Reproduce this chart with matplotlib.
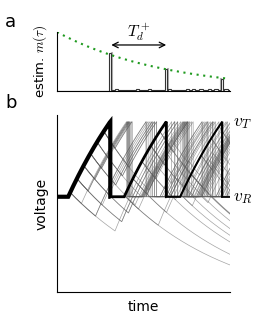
import numpy as np
import matplotlib
matplotlib.use("Agg")
import matplotlib.pyplot as plt
from matplotlib.transforms import blended_transform_factory

plt.rcParams['mathtext.fontset'] = 'cm'
plt.rcParams['font.family'] = ['DejaVu Sans']

# ---------------- data ----------------
# panel a : estimated m(tau)
peak_times = [0.95, 1.95, 2.95]
peak_heights = [0.64, 0.37, 0.20]
gray_side = [1, 1, -1]
bump_starts = [1.03, 1.41, 1.62, 1.98, 2.30, 2.41, 2.53, 2.69, 2.80, 2.99]
bump_ends = [1.09, 1.46, 1.68, 2.04, 2.36, 2.46, 2.60, 2.75, 2.87, 3.05]
bump_heights = [0.035, 0.035, 0.03, 0.035, 0.03, 0.035, 0.035, 0.03, 0.035, 0.04]
base_after = 0.012
env_m0, env_tau = 1.0, 1.95
arrow_t = [0.97, 1.95]

# panel b : trajectories (neuron with switching input)
t_start = 0.2
refractory = 0.25
v_reset, v_thresh = 0.0, 1.0
mu_on, tau_on = 3.0, 1.85
mu_off, tau_off = -1.5, 2.0
t_end = 3.09
# input switch times (off, on, off, ...) for the thin trajectories
cycle1_off = [0.24, 0.36, 0.48, 0.60, 0.72, 0.84]
cycle1_dur = [0.2, 0.45, 0.8]
cycle2_off = [1.21, 1.36, 1.52, 1.68, 1.84]
cycle2_dur = [0.25, 0.6, 5.0]
cycle3_off = [2.22, 2.40, 2.58, 2.76, 2.90]
cycle3_dur = [0.2, 5.0]
combo_off1 = [0.36, 0.48, 0.60, 0.24, 0.84, 0.48, 0.72, 0.36, 0.60, 0.84]
combo_dur1 = [0.2, 0.2, 0.45, 0.45, 0.2, 0.8, 0.45, 0.8, 0.2, 0.45]
combo_off2 = [2.05, 1.80, 2.25, 2.60, 2.45, 2.80, 2.15, 2.70, 1.95, 2.35]
combo_dur2 = [0.3, 0.25, 5.0, 0.2, 0.25, 5.0, 0.3, 5.0, 5.0, 0.2]


def simulate(switches, dt=0.004):
    ts, vs = [0.0, t_start], [v_reset, v_reset]
    t, v, on, k = t_start, v_reset, True, 0
    refr_until = -1.0
    sw = sorted(switches)
    while t < t_end:
        tn = t + dt
        while k < len(sw) and sw[k] <= tn:
            on = not on
            k += 1
        if tn <= refr_until:
            v = v_reset
        else:
            mu, tau = (mu_on, tau_on) if on else (mu_off, tau_off)
            v = mu + (v - mu) * np.exp(-dt / tau)
        t = tn
        if v >= v_thresh:
            ts += [t, t]
            vs += [v_thresh, v_reset]
            v = v_reset
            refr_until = t + refractory
        else:
            ts.append(t)
            vs.append(v)
    return np.array(ts), np.array(vs)


fig = plt.figure(figsize=(2.56, 3.25), dpi=100)

# ---------------- panel a ----------------
axa = fig.add_axes([57 / 256, 1 - 91 / 325, 173 / 256, 59 / 325])
bw = 0.03
segs = list(zip(bump_starts, bump_ends, bump_heights))
for pt, ph in zip(peak_times, peak_heights):
    segs.append((pt - bw / 2, pt + bw / 2, ph))
segs.sort()
xs, ys = [0.0], [0.0]
for (s, e, h) in segs:
    base = base_after if s > peak_times[0] else 0.0
    xs += [s, s, e, e]
    ys += [base, h, h, base_after]
xs.append(t_end - 0.02)
ys.append(base_after)
for pt, ph, sd in zip(peak_times, peak_heights, gray_side):
    axa.plot([pt + sd * (bw / 2 + 0.012)] * 2, [0, ph], color='#b0b0b0', lw=1.5)
axa.plot(xs, ys, color='#333333', lw=0.8, solid_joinstyle='miter')
tt = np.linspace(0, t_end - 0.02, 200)
axa.plot(tt, env_m0 * np.exp(-tt / env_tau), color='#1f9a1f', lw=1.5,
         linestyle=(0, (1, 2.2)))
axa.annotate('', xy=(arrow_t[0], 0.78), xytext=(arrow_t[1], 0.78),
             arrowprops=dict(arrowstyle='<->', lw=0.9, color='k',
                             shrinkA=0, shrinkB=0, mutation_scale=10))
axa.text(np.mean(arrow_t), 0.99, r'$T_d^+$', ha='center', va='center',
         fontsize=11.5, clip_on=False)
axa.set_xlim(0, t_end)
axa.set_ylim(0, 1.0)
for s in ['top', 'right']:
    axa.spines[s].set_visible(False)
for s in ['left', 'bottom']:
    axa.spines[s].set_linewidth(0.8)
axa.set_xticks([])
axa.set_yticks([])
axa.set_ylabel(r'estim. $m(\tau)$', fontsize=9.5, labelpad=6)
axa.patch.set_alpha(0)

# ---------------- panel b ----------------
axb = fig.add_axes([57 / 256, 1 - 292 / 325, 173 / 256, 177 / 325])
thin = []
for tb in cycle1_off:
    for d in cycle1_dur:
        thin.append([tb, tb + d])
for tb in cycle2_off:
    for d in cycle2_dur:
        thin.append([tb, tb + d])
for tb in cycle3_off:
    for d in cycle3_dur:
        thin.append([tb, tb + d])
for a1, d1, a2, d2 in zip(combo_off1, combo_dur1, combo_off2, combo_dur2):
    thin.append([a1, a1 + d1, a2, a2 + d2])
for sw in thin:
    ts, vs = simulate(sw)
    axb.plot(ts, vs, color='0.35', lw=0.5, alpha=0.55)

ts, vs = simulate([])
cuts = [0.95 - 1e-6, 1.95 - 1e-6, 2.95 - 1e-6]
lws = [3.0, 2.0, 1.5, 1.2]
bounds = [0.0] + cuts + [10]
for i in range(4):
    m = (ts >= bounds[i]) & (ts <= bounds[i + 1] + 0.01)
    axb.plot(ts[m], vs[m], color='k', lw=lws[i], solid_joinstyle='miter',
             solid_capstyle='butt')
axb.set_xlim(0, t_end)
axb.set_ylim(-1.27, 1.09)
for s in ['top', 'right']:
    axb.spines[s].set_visible(False)
for s in ['left', 'bottom']:
    axb.spines[s].set_linewidth(0.8)
axb.set_xticks([])
axb.set_yticks([])
axb.set_ylabel('voltage', fontsize=10, labelpad=6)
axb.set_xlabel('time', fontsize=10, labelpad=6)
tr = blended_transform_factory(axb.transAxes, axb.transData)
axb.text(1.02, v_thresh, r'$v_T$', transform=tr, fontsize=12.5, va='center', ha='left')
axb.text(1.02, v_reset, r'$v_R$', transform=tr, fontsize=12.5, va='center', ha='left')

fig.text(0.02, 1 - 27 / 325, 'a', fontsize=13, va='baseline')
fig.text(0.02, 1 - 108 / 325, 'b', fontsize=13, va='baseline')

fig.savefig('out.png', dpi=100)
